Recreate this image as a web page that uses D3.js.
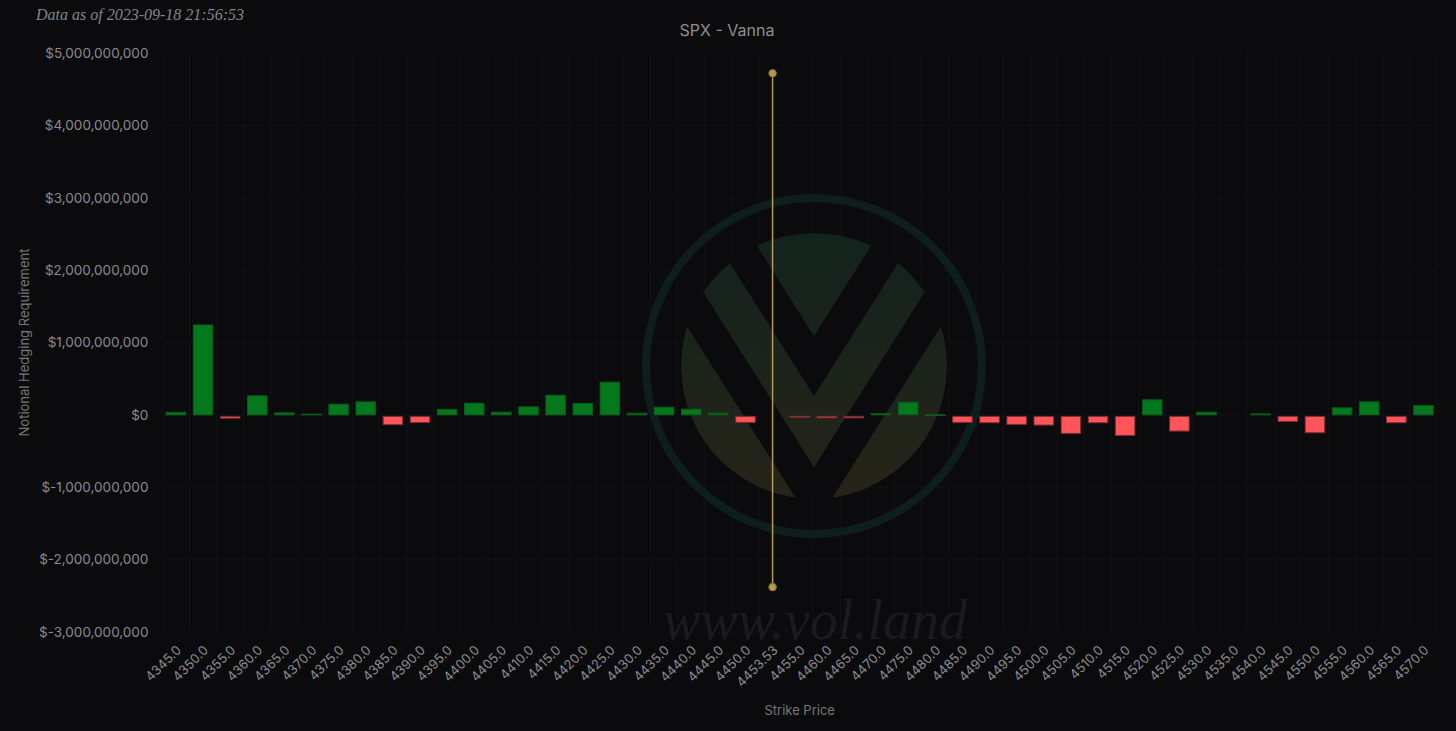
<!DOCTYPE html>
<html>
<head>
<meta charset="utf-8">
<script src="https://cdn.jsdelivr.net/npm/d3@7"></script>
<style>
  html, body { margin: 0; padding: 0; background: #0b0b0d; }
  svg { display: block; }
</style>
</head>
<body>
<svg id="chart" width="1456" height="731"></svg>
<script>
// ---- data ----
const strikes = [
  "4345.0","4350.0","4355.0","4360.0","4365.0","4370.0","4375.0","4380.0","4385.0","4390.0",
  "4395.0","4400.0","4405.0","4410.0","4415.0","4420.0","4425.0","4430.0","4435.0","4440.0",
  "4445.0","4450.0","4453.53","4455.0","4460.0","4465.0","4470.0","4475.0","4480.0","4485.0",
  "4490.0","4495.0","4500.0","4505.0","4510.0","4515.0","4520.0","4525.0","4530.0","4535.0",
  "4540.0","4545.0","4550.0","4555.0","4560.0","4565.0","4570.0"
];
const vanna = [
  35e6, 1242e6, -25e6, 263e6, 28e6, 10e6, 148e6, 180e6, -115e6, -85e6,
  74e6, 162e6, 37e6, 111e6, 272e6, 157e6, 452e6, 23e6, 106e6, 78e6,
  23e6, -83e6, 0, -10e6, -20e6, -20e6, 18e6, 175e6, 2e6, -83e6,
  -88e6, -111e6, -120e6, -235e6, -88e6, -263e6, 208e6, -203e6, 37e6, 0,
  14e6, -69e6, -226e6, 97e6, 180e6, -88e6, 129e6
];
const yTicks = [-3e9, -2e9, -1e9, 0, 1e9, 2e9, 3e9, 4e9, 5e9];
const spotStrike = "4453.53";
const spotLine = [-2.38e9, 4.72e9];
const titleText = "SPX - Vanna";
const dateText = "Data as of 2023-09-18 21:56:53";
const yLabel = "Notional Hedging Requirement";
const xLabel = "Strike Price";
const watermark = "www.vol.land";

// ---- layout ----
const svg = d3.select("#chart");
const L = 162.4, R = 1437, T = 53, B = 632;
const x = d3.scaleBand().domain(strikes).range([L, R]).paddingInner(0.28).paddingOuter(0.14);
const y = d3.scaleLinear().domain([-3e9, 5e9]).range([B, T]);
const font = "Inter, 'Noto Sans', sans-serif";
const fmt = v => "$" + (v < 0 ? "-" : "") + d3.format(",")(Math.abs(v));

svg.append("rect").attr("width", 1456).attr("height", 731).attr("fill", "#0b0b0d");

// grid
svg.append("g").selectAll("line").data(d3.range(strikes.length + 1)).join("line")
  .attr("x1", i => L + i * (R - L) / strikes.length)
  .attr("x2", i => L + i * (R - L) / strikes.length)
  .attr("y1", T).attr("y2", B)
  .attr("stroke", "#131316").attr("stroke-width", 1);
svg.append("g").selectAll("line").data(yTicks).join("line")
  .attr("x1", L).attr("x2", R)
  .attr("y1", d => y(d)).attr("y2", d => y(d))
  .attr("stroke", "#131316").attr("stroke-width", 1);

// watermark logo
const cx = 814, cy = 366;
const defs = svg.append("defs");
const grad = defs.append("linearGradient").attr("id", "lg").attr("x1", 0).attr("y1", 0).attr("x2", 0).attr("y2", 1);
grad.append("stop").attr("offset", "0%").attr("stop-color", "#12231d");
grad.append("stop").attr("offset", "100%").attr("stop-color", "#262418");
defs.append("clipPath").attr("id", "disk").append("circle").attr("cx", cx).attr("cy", cy).attr("r", 133);
const logo = svg.append("g");
logo.append("circle").attr("cx", cx).attr("cy", cy).attr("r", 168)
  .attr("fill", "none").attr("stroke", "#0e1f1b").attr("stroke-width", 8);
const inner = logo.append("g").attr("clip-path", "url(#disk)");
inner.append("circle").attr("cx", cx).attr("cy", cy).attr("r", 133).attr("fill", "url(#lg)");
const s = 1.58;
function vPath(ay) {
  const h = 260;
  return `M${cx - h / s},${ay - h} L${cx},${ay} L${cx + h / s},${ay - h}`;
}
inner.append("path").attr("d", vPath(366)).attr("fill", "none").attr("stroke", "#0b0b0d").attr("stroke-width", 32);
inner.append("path").attr("d", vPath(497)).attr("fill", "none").attr("stroke", "#0b0b0d").attr("stroke-width", 32);

svg.append("text").attr("x", 815).attr("y", 639).attr("text-anchor", "middle")
  .attr("font-family", "'Liberation Serif', 'DejaVu Serif', serif").attr("font-style", "italic")
  .attr("font-size", 56).attr("fill", "#1b1b1e").text(watermark);

// bars
svg.append("g").selectAll("rect")
  .data(strikes.map((s, i) => ({ s, v: vanna[i] })).filter(d => d.s !== spotStrike && d.v !== 0)).join("rect")
  .attr("x", d => x(d.s))
  .attr("width", x.bandwidth())
  .attr("y", d => Math.min(y(d.v), y(0)) + (d.v < 0 ? 1.5 : 0))
  .attr("height", d => Math.max(0.8, Math.abs(y(d.v) - y(0))))
  .attr("fill", d => d.v >= 0 ? "#03781c" : "#fe545a")
  .attr("stroke", d => d.v >= 0 ? "#0b5a18" : "#7d2d31")
  .attr("stroke-width", 1);

// spot line
const sx = x(spotStrike) + x.bandwidth() / 2;
svg.append("line").attr("x1", sx).attr("x2", sx)
  .attr("y1", y(spotLine[1])).attr("y2", y(spotLine[0]))
  .attr("stroke", "#b39a5a").attr("stroke-width", 1.5);
svg.append("g").selectAll("circle").data(spotLine).join("circle")
  .attr("cx", sx).attr("cy", d => y(d)).attr("r", 3.8)
  .attr("fill", "#b8994c").attr("stroke", "#7e6a34").attr("stroke-width", 1);

// y axis
const yAxis = svg.append("g").attr("transform", `translate(${L},0)`)
  .call(d3.axisLeft(y).tickValues(yTicks).tickFormat(fmt).tickSize(0).tickPadding(14));
yAxis.select(".domain").remove();
yAxis.selectAll("text").attr("font-family", font).attr("font-size", 13.5).attr("fill", "#8a8a8d");

// x axis
const xAxis = svg.append("g").attr("transform", `translate(0,${B})`)
  .call(d3.axisBottom(x).tickSize(0).tickPadding(0));
xAxis.select(".domain").remove();
xAxis.selectAll("text")
  .attr("font-family", font).attr("font-size", 13).attr("fill", "#8a8a8d")
  .attr("text-anchor", "end").attr("dy", 0)
  .attr("transform", "translate(6,19) rotate(-45)");

// labels
svg.append("text").attr("x", 727).attr("y", 36).attr("text-anchor", "middle")
  .attr("font-family", font).attr("font-size", 16).attr("fill", "#8e8e91").text(titleText);
svg.append("text").attr("x", 36).attr("y", 20)
  .attr("font-family", "'Liberation Serif', 'DejaVu Serif', serif").attr("font-style", "italic")
  .attr("font-size", 16).attr("fill", "#858588").text(dateText);
svg.append("text").attr("transform", `translate(29,${(T + B) / 2}) rotate(-90)`).attr("text-anchor", "middle")
  .attr("font-family", font).attr("font-size", 13).attr("fill", "#77777a").text(yLabel);
svg.append("text").attr("x", (L + R) / 2).attr("y", 715).attr("text-anchor", "middle")
  .attr("font-family", font).attr("font-size", 13).attr("fill", "#77777a").text(xLabel);
</script>
</body>
</html>
